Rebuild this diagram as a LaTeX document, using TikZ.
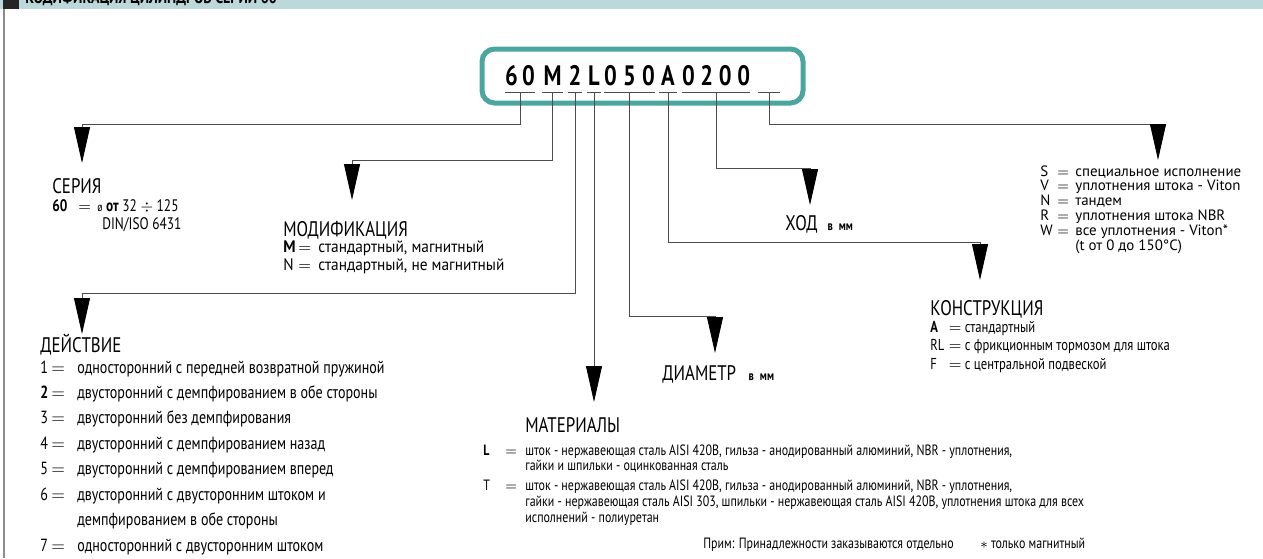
\documentclass[tikz,border=0pt]{standalone}
\usepackage{fontspec}
\setmainfont{PT Sans}[FakeStretch=0.8]
\newfontfamily\semi{PT Sans}[FakeStretch=0.92]
\newfontfamily\plein{PT Sans}
\usetikzlibrary{arrows.meta}

\definecolor{bandeau}{HTML}{BDD8DA}
\definecolor{sarcelle}{HTML}{4AA69F}
\newcommand{\eg}{$=$}

\tikzset{
  titre/.style={anchor=base west, inner sep=0pt, font=\fontsize{12}{14}\selectfont},
  liste/.style={anchor=base west, inner sep=0pt},
  code/.style={anchor=south, inner xsep=0pt, inner ysep=0.12cm, text depth=0pt,
               font=\bfseries\fontsize{16}{16}\selectfont},
  souligne/.style={draw=black!70, line width=0.5pt},
  fil/.style={draw=black!70, line width=0.5pt,
              -{Triangle[length=0.72cm,width=0.32cm,color=black]}}
}

\begin{document}
\begin{tikzpicture}[x=0.02cm,y=-0.02cm]
\useasboundingbox (0,0) rectangle (1263,558);

% 1. Bandeau du haut et cadre a gauche
\fill[bandeau] (0,0) rectangle (1263,9);
\fill[black!85] (3,0) rectangle (19,9);
\node[anchor=base west, inner sep=0pt, font=\bfseries\fontsize{10}{12}\selectfont] (entete) at (25,3.5) {КОДИФИКАЦИЯ ЦИЛИНДРОВ СЕРИИ 60};
\draw[black!45, line width=0.8pt] (4,9) -- (4,558);

% 2. Le code dans son cadre arrondi
\draw[sarcelle, line width=0.1cm, rounded corners=0.25cm] (482,49) rectangle (803,103);
\node[code] (g60) at (520,92) {\makebox[0.6cm][s]{6\hfil0}};
\node[code] (gM) at (552.5,92) {\makebox[0.42cm]{M}};
\node[code] (g2) at (575,92) {\makebox[0.28cm]{2}};
\node[code] (gL) at (594,92) {\makebox[0.28cm]{L}};
\node[code] (g050) at (629.5,92) {\makebox[1.02cm][s]{0\hfil5\hfil0}};
\node[code] (gA) at (668,92) {\makebox[0.36cm]{A}};
\node[code] (g0200) at (716,92) {\makebox[1.36cm][s]{0\hfil2\hfil0\hfil0}};
\node[code] (gX) at (769,92) {\makebox[0.44cm]{\vphantom{0}}};

\foreach \g in {g60,gM,g2,gL,g050,gA,g0200,gX} {
    \draw[souligne] (\g.south west) -- (\g.south east);
}

% 3. Pointes des fleches
\coordinate (pSer) at (82,163);
\coordinate (pMod) at (352,200);
\coordinate (pAct) at (82,334);
\coordinate (pMat) at (594,402);
\coordinate (pDia) at (715,353);
\coordinate (pCon) at (980,280);
\coordinate (pHod) at (810,205);
\coordinate (pOpt) at (1158,160);

% 4. Les fils du code vers chaque rubrique
\draw[fil] (g60.south) -- ++(0,32) -| (pSer);
\draw[fil] (gM.south) -- ++(0,68) -| (pMod);
\draw[fil] (g2.south) -- ++(0,201) -| (pAct);
\draw[fil] (gL.south) -- (pMat);
\draw[fil] (g050.south) -- ++(0,224) -| (pDia);
\draw[fil] (gA.south) -- ++(0,150) -| (pCon);
\draw[fil] (g0200.south) -- ++(0,76) -| (pHod);
\draw[fil] (gX.south) -- ++(0,32) -| (pOpt);

% 5. Serie
\node[titre] (tSer) at (52,193) {СЕРИЯ};
\node[liste] (lSer) at (52,211) {\fontsize{9.5}{10.8}\selectfont
\begin{tabular}[t]{@{}p{0.52cm}@{}p{0.38cm}@{}l@{}}
\textbf{60} & \eg & {\scriptsize ø} \textbf{от} 32 $\div$ 125\\
 & & \hspace{0.1cm}DIN/ISO 6431
\end{tabular}};

% 6. Modification
\node[titre] (tMod) at (283,236) {МОДИФИКАЦИЯ};
\node[liste] (lMod) at (283,252) {\semi\fontsize{9.5}{10.8}\selectfont
\begin{tabular}[t]{@{}p{0.3cm}@{}p{0.4cm}@{}l@{}}
\textbf{M} & \eg & стандартный, магнитный\\
N & \eg & стандартный, не магнитный
\end{tabular}};

% 7. Action
\node[titre] (tAct) at (40,352) {ДЕЙСТВИЕ};
\node[liste] (lAct) at (40,373) {\fontsize{10}{14.5}\selectfont
\begin{tabular}[t]{@{}p{0.22cm}@{}p{0.52cm}@{}l@{}}
1 & \eg & односторонний с передней возвратной пружиной\\
\textbf{2} & \eg & двусторонний с демпфированием в обе стороны\\
3 & \eg & двусторонний без демпфирования\\
4 & \eg & двусторонний с демпфированием назад\\
5 & \eg & двусторонний с демпфированием вперед\\
6 & \eg & двусторонний с двусторонним штоком и\\
 & & демпфированием в обе стороны\\
7 & \eg & односторонний с двусторонним штоком
\end{tabular}};

% 8. Materiaux
\node[titre] (tMat) at (525,432) {МАТЕРИАЛЫ};
\node[liste] (lMat) at (483,455) {\fontsize{8.5}{9.1}\selectfont
\begin{tabular}[t]{@{}p{0.44cm}@{}p{0.4cm}@{}l@{}}
\textbf{L} & \eg & шток - нержавеющая сталь AISI 420B, гильза - анодированный алюминий, NBR - уплотнения,\\
 & & гайки и шпильки - оцинкованная сталь\\[0.08cm]
T & \eg & шток - нержавеющая сталь AISI 420B, гильза - анодированный алюминий, NBR - уплотнения,\\
 & & гайки - нержавеющая сталь AISI 303, шпильки - нержавеющая сталь AISI 420B, уплотнения штока для всех\\
 & & исполнений - полиуретан
\end{tabular}};

% 9. Diametre et course
\node[titre] (tDia) at (662,380) {ДИАМЕТР\hspace{0.25cm}{\bfseries\fontsize{7.5}{9}\selectfont в\hspace{0.12cm}мм}};
\node[titre] (tHod) at (785,230) {ХОД\hspace{0.2cm}{\bfseries\fontsize{7.5}{9}\selectfont в\hspace{0.12cm}мм}};

% 10. Construction
\node[titre] (tCon) at (930,315) {КОНСТРУКЦИЯ};
\node[liste] (lCon) at (930,332) {\fontsize{9}{10.8}\selectfont
\begin{tabular}[t]{@{}p{0.37cm}@{}p{0.32cm}@{}l@{}}
\textbf{A} & \eg & стандартный\\
RL & \eg & с фрикционным тормозом для штока\\
F & \eg & с центральной подвеской
\end{tabular}};

% 11. Options
\node[liste] (lOpt) at (1040,176) {\plein\fontsize{8.5}{8}\selectfont
\begin{tabular}[t]{@{}p{0.34cm}@{}p{0.36cm}@{}l@{}}
S & \eg & специальное исполнение\\
V & \eg & уплотнения штока - Viton\\
N & \eg & тандем\\
R & \eg & уплотнения штока NBR\\
W & \eg & все уплотнения - Viton*\\
 & & (t от 0 до 150°C)
\end{tabular}};

% 12. Notes en bas
\node[liste, font=\fontsize{8.5}{10}\selectfont] (nPrim) at (703,548) {Прим: Принадлежности заказываются отдельно};
\node[liste, font=\fontsize{8.5}{10}\selectfont] (nMag) at (980,548) {$*$ только магнитный};
\end{tikzpicture}
\end{document}
